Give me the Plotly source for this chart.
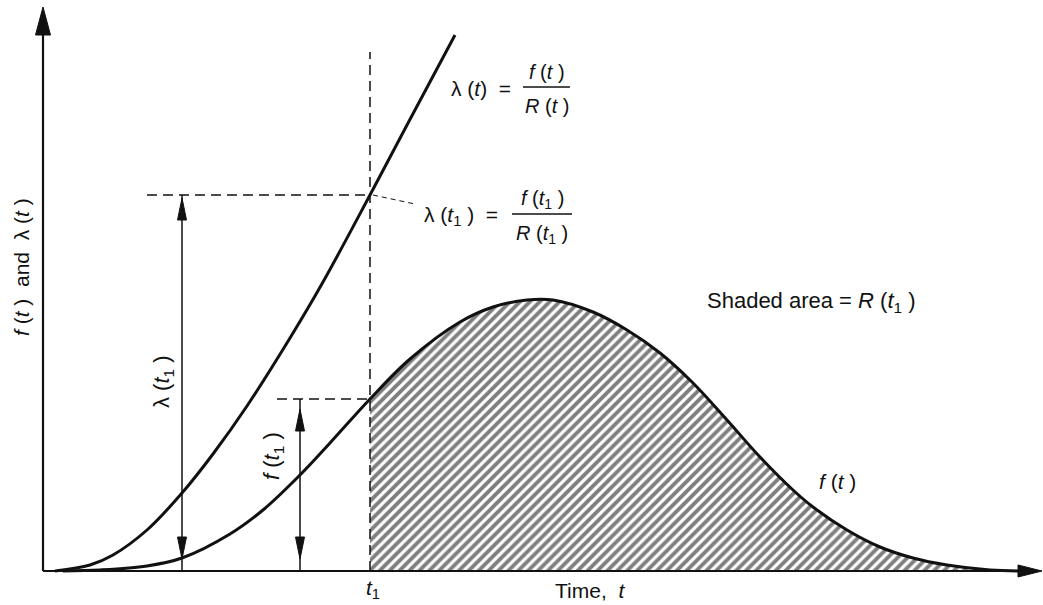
import plotly.graph_objects as go

# ---------------- data ----------------
t_f = [0.20, 0.57, 1.04, 1.39, 1.87, 2.20, 2.57, 2.87, 3.27, 3.67, 4.17, 4.50,
       4.84, 5.10, 5.50, 5.84, 6.17, 6.50, 6.84, 7.17, 7.50, 7.70, 8.04, 8.37,
       8.70, 9.04, 9.47, 9.80]
f_vals = [0.00, 0.01, 0.05, 0.13, 0.37, 0.61, 0.96, 1.28, 1.72, 2.12, 2.49, 2.64,
          2.71, 2.71, 2.59, 2.41, 2.18, 1.88, 1.51, 1.14, 0.81, 0.64, 0.41, 0.24,
          0.13, 0.06, 0.01, 0.00]

t_lam = [0.12, 0.47, 0.70, 1.04, 1.39, 1.70, 2.04, 2.47, 2.80, 3.27, 3.64, 4.12]
lam_vals = [0.00, 0.06, 0.16, 0.41, 0.78, 1.17, 1.65, 2.33, 2.89, 3.76, 4.46, 5.36]

t1 = 3.27
f_t1 = 1.72
lam_t1 = 3.76
t_lam_arrow = 1.39   # position of the lambda(t1) dimension arrow
t_f_arrow = 2.57     # position of the f(t1) dimension arrow

# ---------------- canvas geometry ----------------
W, H = 1043, 605
X0_PX, Y0_PX, PPU = 43, 571, 100.0          # axis origin (px) and px per unit
x_range = [-X0_PX / PPU, (W - X0_PX) / PPU]
y_range = [-(H - Y0_PX) / PPU, Y0_PX / PPU]

def px2d(px, py):
    return (px - X0_PX) / PPU, (Y0_PX - py) / PPU

def pap(px, py):
    return px / W, 1 - py / H

INK = "#111111"
FONT = "Liberation Sans, Arial, sans-serif"

fig = go.Figure()

# hatched area under f(t) for t >= t1
t_sh = [t for t in t_f if t >= t1]
f_sh = [v for t, v in zip(t_f, f_vals) if t >= t1]
fig.add_trace(go.Scatter(
    x=t_sh, y=f_sh, mode="lines", line=dict(width=0, shape="spline", smoothing=1.0),
    fill="tozeroy", fillcolor="rgba(0,0,0,0)",
    fillpattern=dict(shape="/", size=7, solidity=0.55, fgcolor="black", bgcolor="white"),
    hoverinfo="skip"))

# curves
fig.add_trace(go.Scatter(x=t_f, y=f_vals, mode="lines",
                         line=dict(color=INK, width=3, shape="spline", smoothing=1.0),
                         hoverinfo="skip"))
fig.add_trace(go.Scatter(x=t_lam, y=lam_vals, mode="lines",
                         line=dict(color=INK, width=3, shape="spline", smoothing=1.0),
                         hoverinfo="skip"))

shapes = []

def line(x0, y0, x1, y1, width=1.3, dash=None):
    d = dict(type="line", x0=x0, y0=y0, x1=x1, y1=y1, xref="x", yref="y",
             line=dict(color=INK, width=width))
    if dash:
        d["line"]["dash"] = dash
    shapes.append(d)

def head(xt, yt, dx, dy, length=22, width=9):
    L = length / PPU
    hw = width / PPU / 2
    bx, by = xt - dx * L, yt - dy * L
    nx, ny = -dy, dx
    path = (f"M{xt},{yt} L{bx + nx * hw},{by + ny * hw} "
            f"L{bx - nx * hw},{by - ny * hw} Z")
    shapes.append(dict(type="path", path=path, xref="x", yref="y",
                       fillcolor=INK, line=dict(color=INK, width=1)))

# axes
ax_x_end = x_range[1] - 0.01
ax_y_end = y_range[1] - 0.07
line(0, 0, ax_x_end - 0.1, 0, width=2.2)
line(0, 0, 0, ax_y_end - 0.1, width=2.2)
head(ax_x_end, 0, 1, 0, length=24, width=12)
head(0, ax_y_end, 0, 1, length=28, width=15)

# dashed guides
dash = "10px,6px"
top_dash = px2d(0, 52)[1]
line(t1, 0, t1, top_dash, width=1.5, dash=dash)
line(1.04, lam_t1, t1, lam_t1, width=1.5, dash=dash)
line(2.34, f_t1, t1, f_t1, width=1.5, dash=dash)

# leader to lambda(t1) label
lx, ly = px2d(415, 204)
line(t1 + 0.03, lam_t1, lx, ly, width=1, dash="5px,4px")

# dimension arrows
line(t_lam_arrow, 0, t_lam_arrow, lam_t1, width=1.5)
head(t_lam_arrow, lam_t1 - 0.03, 0, 1)
head(t_lam_arrow, 0.12, 0, -1)
line(t_f_arrow, 0, t_f_arrow, f_t1, width=1.5)
head(t_f_arrow, f_t1 - 0.1, 0, 1)
head(t_f_arrow, 0.12, 0, -1)

# fraction bars
for (xa, xb, yy) in [(523, 570, 87), (512, 572, 214)]:
    a = pap(xa, yy); b = pap(xb, yy)
    shapes.append(dict(type="line", xref="paper", yref="paper", x0=a[0], y0=a[1],
                       x1=b[0], y1=b[1], line=dict(color=INK, width=1.3)))

annotations = []

def text(s, px, py, size=20, angle=0, xanchor="center"):
    x, y = pap(px, py)
    annotations.append(dict(text=s, x=x, y=y, xref="paper", yref="paper",
                            xanchor=xanchor, yanchor="middle", showarrow=False,
                            textangle=angle,
                            font=dict(family=FONT, size=size, color=INK)))

# formula labels
text("λ (<i>t</i>)  =", 481, 88, size=21)
text("<i>f</i> (<i>t</i> )", 547, 72, size=20)
text("<i>R</i> (<i>t</i> )", 547, 106, size=20)

text("λ (<i>t</i><sub>1</sub> )  =", 461, 216, size=21)
text("<i>f</i> (<i>t</i><sub>1</sub> )", 542, 199, size=20)
text("<i>R</i> (<i>t</i><sub>1</sub> )", 542, 234, size=20)

text("Shaded area = <i>R</i> (<i>t</i><sub>1</sub> )", 811, 302, size=22)
text("<i>f</i> (<i>t</i> )", 837, 481, size=21)
text("<i>t</i><sub>1</sub>", 373, 589, size=21)
text("Time,  <i>t</i>", 590, 590, size=21)
text("<i>f</i> (<i>t</i> )  and  λ (<i>t</i> )", 21, 267, size=21, angle=-90)
text("λ (<i>t</i><sub>1</sub> )", 163, 382, size=22, angle=-90)
text("<i>f</i> (<i>t</i><sub>1</sub> )", 273, 456, size=22, angle=-90)

fig.update_layout(
    width=W, height=H, autosize=False,
    margin=dict(l=0, r=0, t=0, b=0, pad=0),
    paper_bgcolor="white", plot_bgcolor="white",
    showlegend=False, hovermode=False,
    xaxis=dict(range=x_range, visible=False, fixedrange=True),
    yaxis=dict(range=y_range, visible=False, fixedrange=True),
    shapes=shapes, annotations=annotations,
)

fig.write_html("out.html", config={"displayModeBar": False})
